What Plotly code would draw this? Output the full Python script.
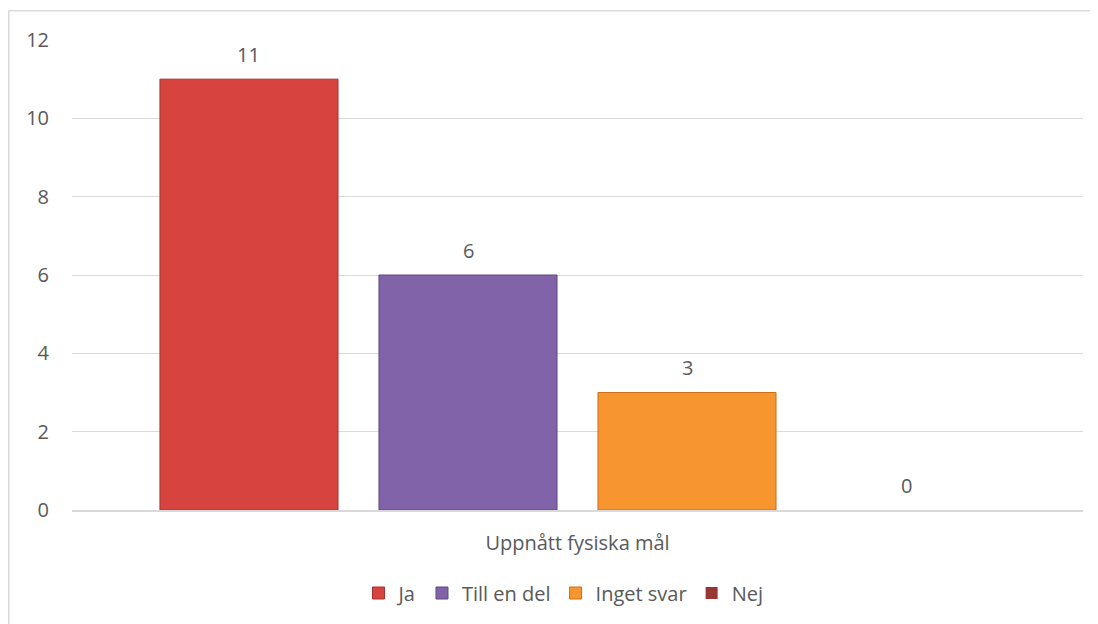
import plotly.graph_objects as go

category = ["Uppnått fysiska mål"]
series_names = ["Ja", "Till en del", "Inget svar", "Nej"]
series_values = [11, 6, 3, 0]
series_colors = ["#D7443F", "#8063A9", "#F7962F", "#973633"]
line_colors = ["#A8312E", "#5F4880", "#C8701E", "#6E2422"]
y_ticks = [0, 2, 4, 6, 8, 10, 12]

FONT = "Open Sans"
TXT = "#595959"
FS = 20

BARGAP = 0.1335
BARGROUPGAP = 0.187

fig = go.Figure()
for name, val, col, lc in zip(series_names, series_values, series_colors, line_colors):
    fig.add_trace(go.Bar(
        name=name, x=category, y=[val],
        marker=dict(color=col, line=dict(color=lc, width=1 if val > 0 else 0)),
    ))

# data labels above each bar
n = len(series_values)
slot = (1 - BARGAP) / n
for i, val in enumerate(series_values):
    xc = -(1 - BARGAP) / 2 + slot * (i + 0.5)
    fig.add_annotation(x=xc, y=val, xref="x", yref="y", text=str(val),
                       showarrow=False, yanchor="middle", yshift=25,
                       font=dict(family=FONT, size=FS, color=TXT))

# page has an 8px body margin: figure is offset by (8, 8) in the window
W, H = 1090, 616
L, R, T, B = 64, 15, 32, 114
pw, ph = W - L - R, H - T - B

left_x = (0.75 - L) / pw
top_y = (T + ph - 2.75) / ph
fig.update_layout(
    width=W, height=H,
    margin=dict(l=L, r=R, t=T, b=B),
    paper_bgcolor="white", plot_bgcolor="white",
    barmode="group", bargap=BARGAP, bargroupgap=BARGROUPGAP,
    font=dict(family=FONT, size=FS, color=TXT),
    showlegend=True,
    legend=dict(orientation="h", x=0.5 - 14 / pw, xanchor="center",
                y=(T + ph - 585) / ph, yanchor="middle",
                font=dict(family=FONT, size=FS, color=TXT),
                tracegroupgap=0),
    xaxis=dict(showgrid=False, showline=True, linecolor="#D9D9D9", linewidth=1.5,
               ticks="", ticklabelstandoff=14, range=[-0.5, 0.5],
               tickfont=dict(family=FONT, size=FS, color=TXT)),
    yaxis=dict(range=[0, 12], tickvals=y_ticks, showgrid=True, gridcolor="#D9D9D9",
               gridwidth=1, zeroline=False, showline=False, ticks="",
               ticklabelstandoff=22,
               tickfont=dict(family=FONT, size=FS, color=TXT)),
    shapes=[
        dict(type="line", xref="paper", yref="paper",
             x0=left_x, x1=left_x, y0=(T + ph - H) / ph, y1=top_y,
             line=dict(color="#D9D9D9", width=1.5), layer="below"),
        dict(type="line", xref="paper", yref="paper",
             x0=left_x, x1=(W - L) / pw, y0=top_y, y1=top_y,
             line=dict(color="#D9D9D9", width=1.5), layer="below"),
    ],
)

fig.write_html("out.html")
